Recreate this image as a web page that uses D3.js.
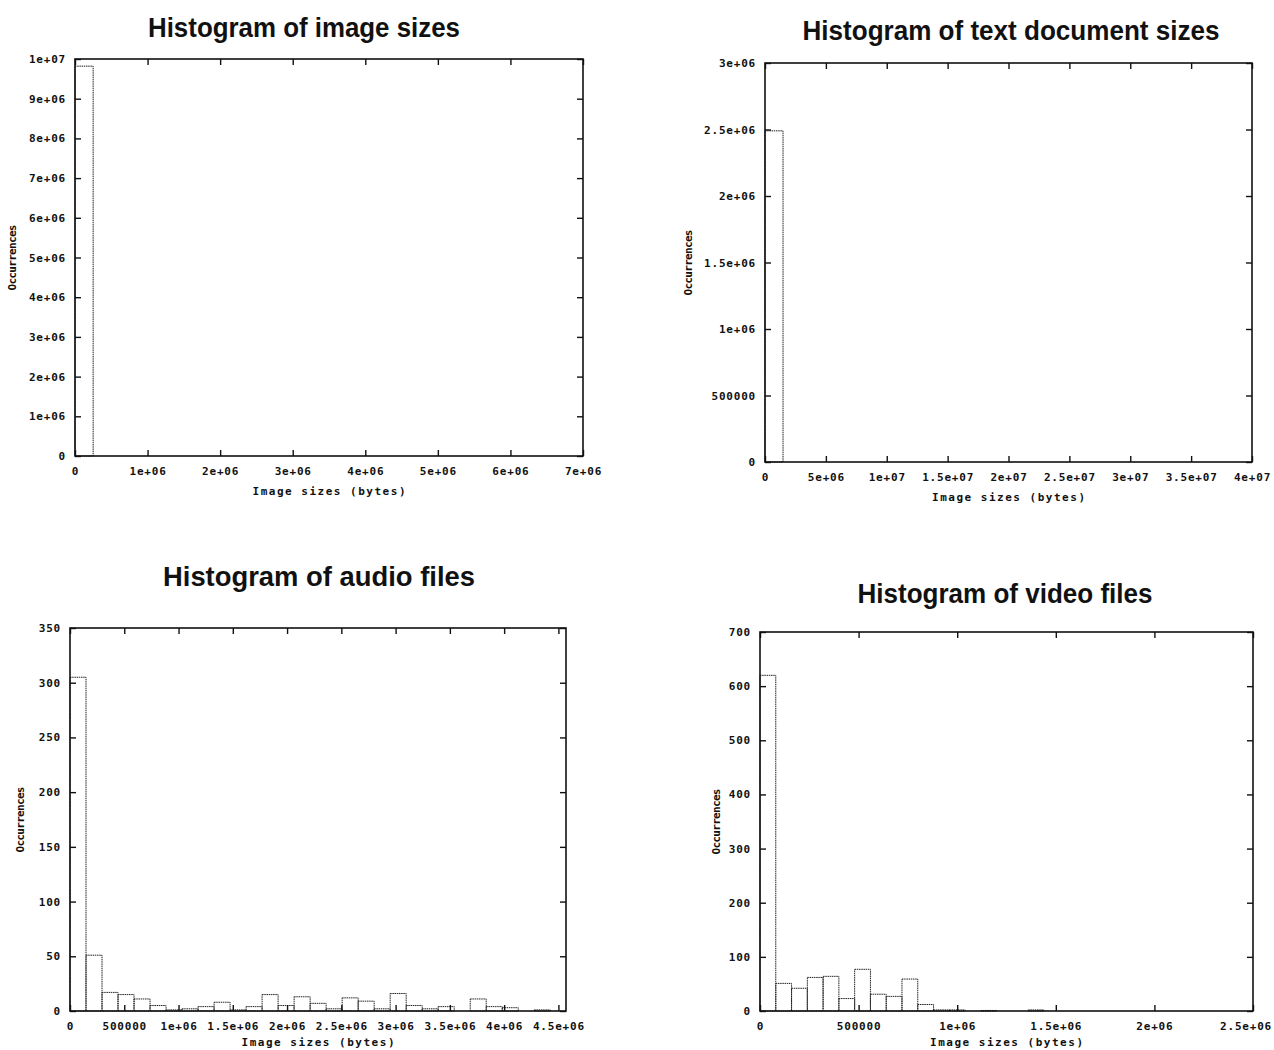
<!DOCTYPE html>
<html>
<head>
<meta charset="utf-8">
<script src="https://cdn.jsdelivr.net/npm/d3@7"></script>
<style>
  body { margin: 0; background: #fff; }
  .tick text { font-family: "DejaVu Sans Mono", monospace; font-weight: bold; font-size: 11px; letter-spacing: 0.8px; fill: #111; }
  .tick line { stroke: #111; stroke-width: 1.4; }
  .title { font-family: "Liberation Sans", Arial, sans-serif; font-weight: bold; font-size: 27px; fill: #111; }
  .axis-label { font-family: "DejaVu Sans Mono", monospace; font-weight: bold; font-size: 11px; fill: #111; }
</style>
</head>
<body>
<div id="chart"></div>
<script>
// bin widths (bytes) and counts per bin
const imageBinWidth = 250000;
const imageCounts = [9820000];
const imageXTicks = [0, 1e6, 2e6, 3e6, 4e6, 5e6, 6e6, 7e6];
const imageYTicks = [0, 1e6, 2e6, 3e6, 4e6, 5e6, 6e6, 7e6, 8e6, 9e6, 1e7];

const textBinWidth = 1480000;
const textCounts = [2490000];
const textXTicks = [0, 5e6, 1e7, 1.5e7, 2e7, 2.5e7, 3e7, 3.5e7, 4e7];
const textYTicks = [0, 500000, 1e6, 1.5e6, 2e6, 2.5e6, 3e6];

const audioBinWidth = 147500;
const audioCounts = [305, 51, 17, 15, 11, 5, 1, 2, 4, 8, 1, 4, 15, 5, 13, 7,
  2, 12, 9, 2, 16, 5, 2, 4, 0, 11, 4, 3, 0, 1, 0];
const audioXTicks = [0, 500000, 1e6, 1.5e6, 2e6, 2.5e6, 3e6, 3.5e6, 4e6, 4.5e6];
const audioYTicks = [0, 50, 100, 150, 200, 250, 300, 350];

const videoBinWidth = 80000;
const videoCounts = [620, 51, 42, 62, 64, 23, 77, 31, 27, 59, 12, 2, 2, 0, 1, 0,
  0, 2, 0, 0, 0, 0, 0, 0, 0, 0, 0, 0, 0, 0, 0];
const videoXTicks = [0, 500000, 1e6, 1.5e6, 2e6, 2.5e6];
const videoYTicks = [0, 100, 200, 300, 400, 500, 600, 700];

// gnuplot style "%g" labels: 500000, 1e+06, 1.5e+07 ...
const gnuFormat = v => {
  if (v === 0 || Math.abs(v) < 1e6) return String(v);
  const [m, e] = v.toExponential().split("e");
  const sign = e[0];
  const digits = e.slice(1).padStart(2, "0");
  return `${m}e${sign}${digits}`;
};

const histograms = {
  init() {
    this.svg = d3
      .select("#chart")
      .append("svg")
      .attr("width", 1274)
      .attr("height", 1050);

    this.drawHistogram({
      title: "Histogram of image sizes", titleX: 304, titleY: 37, titleLen: 312,
      left: 75, right: 583, top: 59, bottom: 456, yLabelX: 12, xLabelY: 495,
      xDomain: [0, 7e6], yDomain: [0, 1e7],
      xTicks: imageXTicks, yTicks: imageYTicks,
      binWidth: imageBinWidth, counts: imageCounts
    });
    this.drawHistogram({
      title: "Histogram of text document sizes", titleX: 1011, titleY: 40, titleLen: 417,
      left: 765, right: 1252, top: 63, bottom: 462, yLabelX: 688, xLabelY: 501,
      xDomain: [0, 4e7], yDomain: [0, 3e6],
      xTicks: textXTicks, yTicks: textYTicks,
      binWidth: textBinWidth, counts: textCounts
    });
    this.drawHistogram({
      title: "Histogram of audio files", titleX: 319, titleY: 586, titleLen: 312,
      left: 70, right: 566, top: 628, bottom: 1011, yLabelX: 20, xLabelY: 1046,
      xDomain: [0, 4.57e6], yDomain: [0, 350],
      xTicks: audioXTicks, yTicks: audioYTicks,
      binWidth: audioBinWidth, counts: audioCounts
    });
    this.drawHistogram({
      title: "Histogram of video files", titleX: 1005, titleY: 603, titleLen: 295,
      left: 760, right: 1253, top: 632, bottom: 1011, yLabelX: 716, xLabelY: 1046,
      xDomain: [0, 2.5e6], yDomain: [0, 700],
      xTicks: videoXTicks, yTicks: videoYTicks,
      binWidth: videoBinWidth, counts: videoCounts
    });
  },

  drawHistogram(cfg) {
    const g = this.svg.append("g");

    const x = d3.scaleLinear().domain(cfg.xDomain).range([cfg.left, cfg.right]);
    const y = d3.scaleLinear().domain(cfg.yDomain).range([cfg.bottom, cfg.top]);

    const bins = cfg.counts.map((c, i) => ({
      x0: i * cfg.binWidth,
      x1: (i + 1) * cfg.binWidth,
      count: c
    }));

    // bars: dotted outline like the printed scan
    g.selectAll(".bar")
      .data(bins)
      .enter()
      .append("rect")
      .attr("class", "bar")
      .attr("x", d => x(d.x0))
      .attr("y", d => y(d.count))
      .attr("width", d => x(d.x1) - x(d.x0))
      .attr("height", d => y(0) - y(d.count))
      .attr("fill", "none")
      .attr("stroke", "#222")
      .attr("stroke-width", 1)
      .attr("stroke-dasharray", "1.5,0.7");

    // ticks on all four sides, pointing inward
    const bottomAxis = g.append("g")
      .attr("transform", `translate(0,${cfg.bottom})`)
      .call(d3.axisBottom(x).tickValues(cfg.xTicks).tickSize(-6).tickPadding(11).tickFormat(gnuFormat));
    const topAxis = g.append("g")
      .attr("transform", `translate(0,${cfg.top})`)
      .call(d3.axisTop(x).tickValues(cfg.xTicks).tickSize(-6).tickFormat(""));
    const leftAxis = g.append("g")
      .attr("transform", `translate(${cfg.left},0)`)
      .call(d3.axisLeft(y).tickValues(cfg.yTicks).tickSize(-6).tickPadding(9).tickFormat(gnuFormat));
    const rightAxis = g.append("g")
      .attr("transform", `translate(${cfg.right},0)`)
      .call(d3.axisRight(y).tickValues(cfg.yTicks).tickSize(-6).tickFormat(""));

    [bottomAxis, topAxis, leftAxis, rightAxis].forEach(a => a.select(".domain").remove());
    leftAxis.selectAll(".tick text").attr("text-anchor", "end");

    // keep a label that would run past the page edge inside it
    bottomAxis.selectAll(".tick text").each(function () {
      const box = this.getBBox();
      const tx = this.parentNode.transform.baseVal.consolidate().matrix.e;
      if (tx + box.x + box.width > 1272) {
        d3.select(this).attr("text-anchor", "end").attr("x", 1272 - tx);
      }
    });

    // frame
    g.append("rect")
      .attr("x", cfg.left)
      .attr("y", cfg.top)
      .attr("width", cfg.right - cfg.left)
      .attr("height", cfg.bottom - cfg.top)
      .attr("fill", "none")
      .attr("stroke", "#111")
      .attr("stroke-width", 1.6);

    // title
    g.append("text")
      .attr("class", "title")
      .attr("x", cfg.titleX)
      .attr("y", cfg.titleY)
      .attr("text-anchor", "middle")
      .attr("textLength", cfg.titleLen)
      .attr("lengthAdjust", "spacingAndGlyphs")
      .text(cfg.title);

    // x axis label
    g.append("text")
      .attr("class", "axis-label")
      .attr("x", (cfg.left + cfg.right) / 2)
      .attr("y", cfg.xLabelY)
      .attr("text-anchor", "middle")
      .attr("textLength", 153)
      .text("Image sizes (bytes)");

    // y axis label
    g.append("text")
      .attr("class", "axis-label")
      .attr("transform", `translate(${cfg.yLabelX + 4},${(cfg.top + cfg.bottom) / 2}) rotate(-90)`)
      .attr("text-anchor", "middle")
      .attr("font-size", 10)
      .attr("textLength", 66)
      .text("Occurrences");
  }
};

histograms.init();
</script>
</body>
</html>
